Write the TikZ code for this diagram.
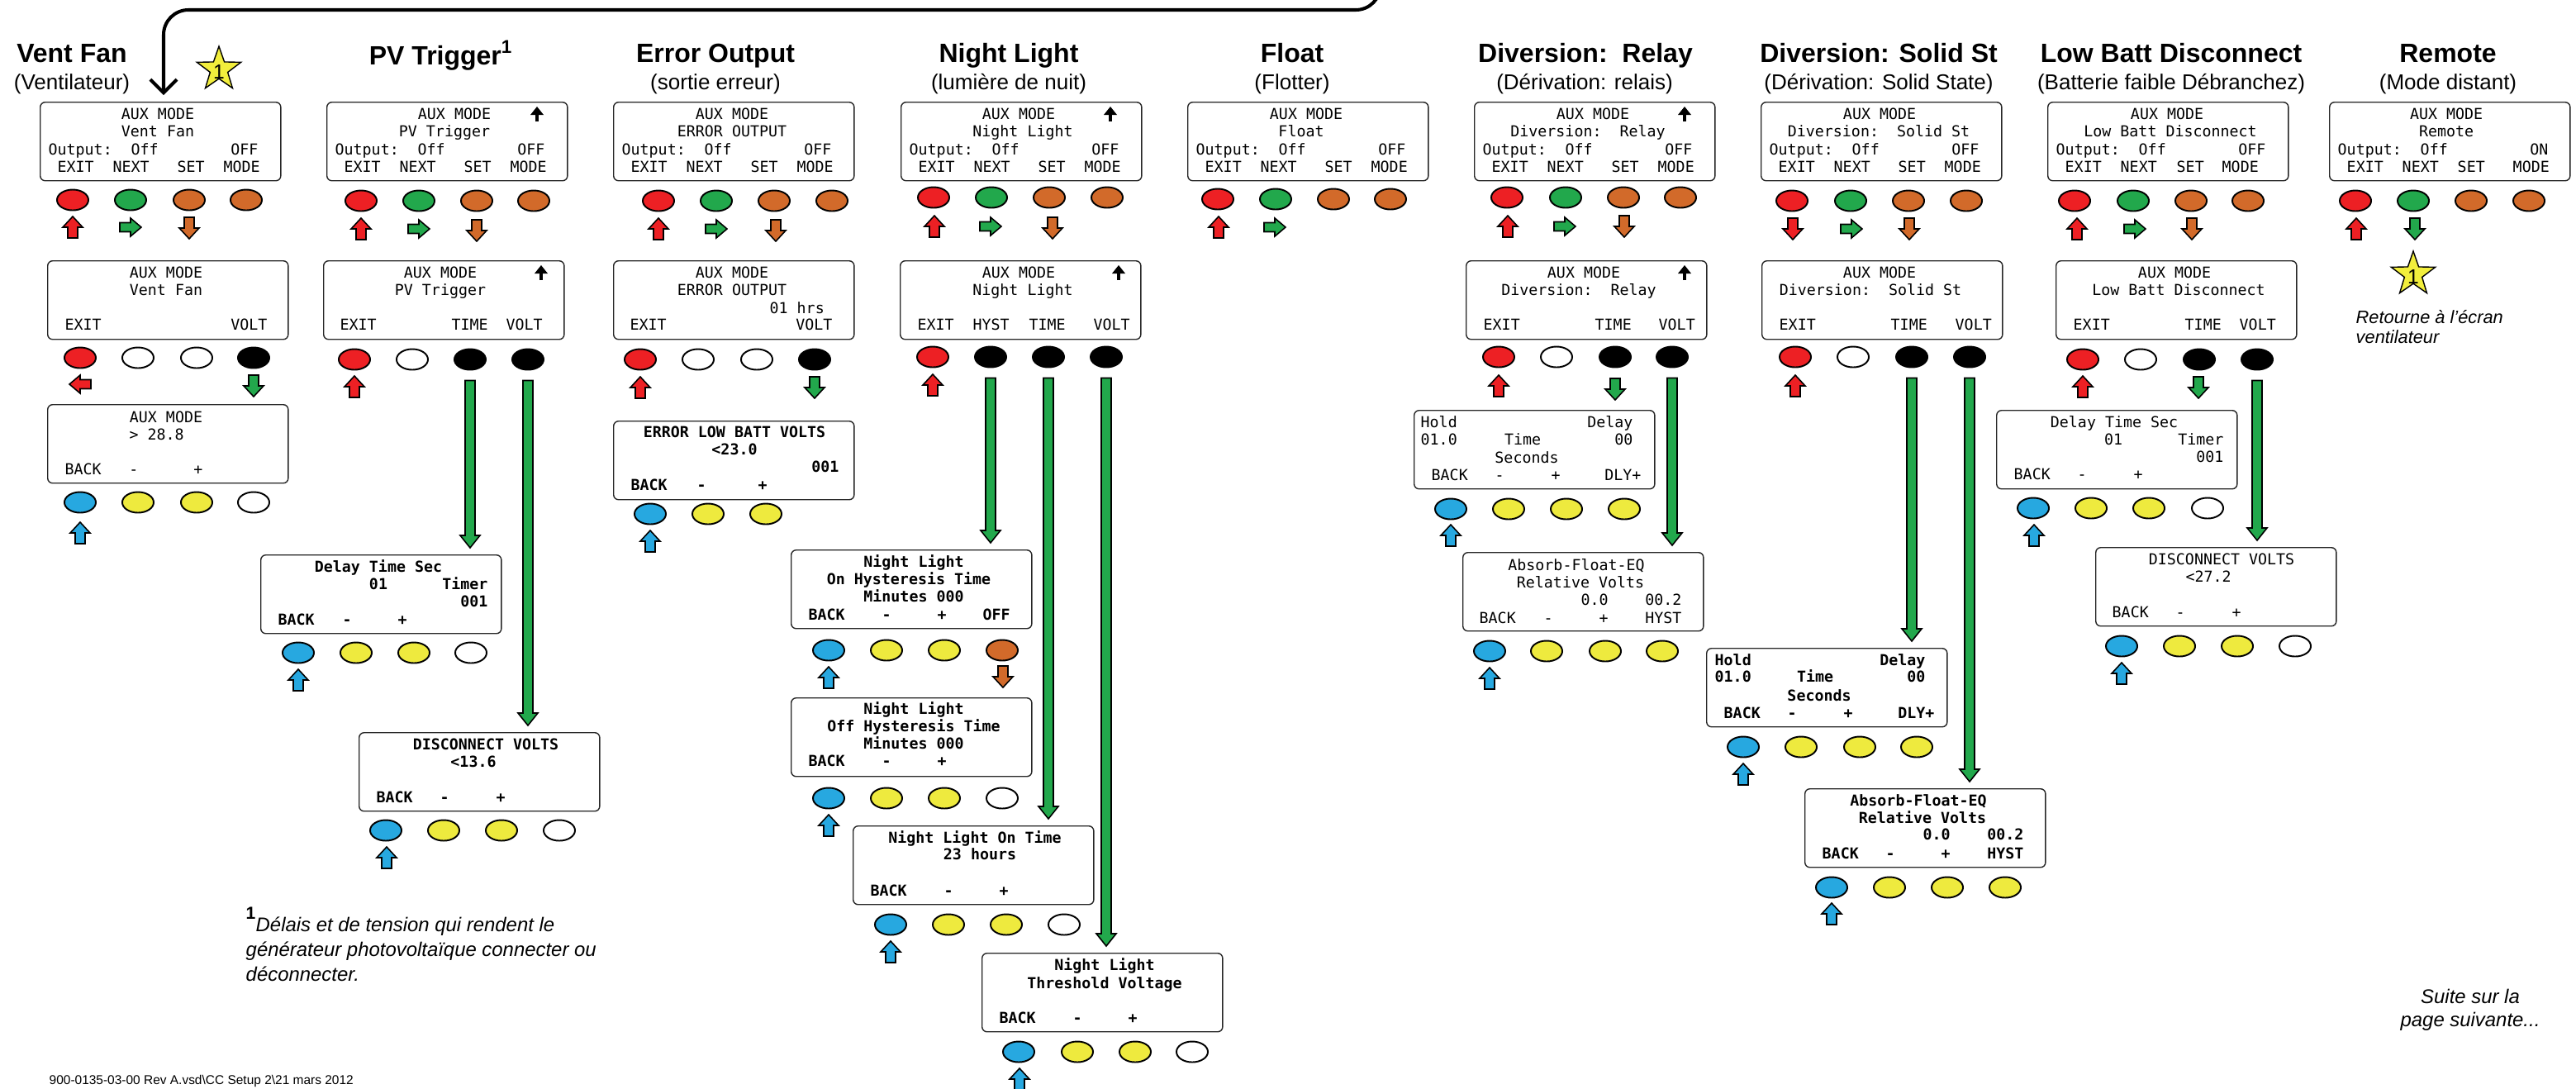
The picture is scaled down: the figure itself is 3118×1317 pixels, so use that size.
\documentclass[tikz,border=0pt]{standalone}
\usepackage{fontspec}
\setmainfont{Liberation Sans}
\newfontfamily\lcdfont{DejaVu Sans Mono}
\usetikzlibrary{shapes.geometric,arrows.meta,calc}
\definecolor{bred}{RGB}{237,32,36}
\definecolor{bgreen}{RGB}{34,168,76}
\definecolor{borange}{RGB}{210,106,42}
\definecolor{bblue}{RGB}{39,168,224}
\definecolor{byellow}{RGB}{238,234,62}
\definecolor{stary}{RGB}{242,238,60}
\newcount\tcnt
\tikzset{
  lcdA/.style={font=\lcdfont\fontsize{5.2}{6}\selectfont,inner sep=0pt},
  lcdB/.style={font=\lcdfont\bfseries\fontsize{5.2}{6}\selectfont,inner sep=0pt},
  lcdbox/.style={draw=black!85,line width=0.4pt,rounded corners=0.06cm,minimum width=2.91cm,minimum height=0.95cm,inner sep=0pt,anchor=north west,fill=white},
  btn/.style={ellipse,draw=black,line width=0.55pt,minimum width=0.38cm,minimum height=0.25cm,inner sep=0pt},
  barr/.style={draw=black,line width=0.45pt,line join=miter},
  ttl/.style={font=\bfseries\fontsize{9.1}{11}\selectfont,inner sep=0pt,anchor=base},
  subttl/.style={font=\fontsize{7.4}{9}\selectfont,inner sep=0pt,anchor=base},
  note/.style={font=\itshape\fontsize{6.2}{7}\selectfont,inner sep=0pt,anchor=base west},
  fnote/.style={font=\itshape\fontsize{6.8}{8}\selectfont,inner sep=0pt,anchor=base west},
  topline/.style={line width=1.15pt,rounded corners=0.3cm,-{Straight Barb[length=0.16cm,width=0.32cm]}},
  upglyph/.style={line width=1.1pt},
  starst/.style={star,star points=5,star point ratio=2.5,minimum size=0.56cm,inner sep=0pt,fill=stary,draw=black,line width=0.4pt},
}
\newcommand\TW[4][lcdA]{\global\advance\tcnt by 1\relax\node[#1,anchor=base west] (t\the\tcnt) at (#2,#3+6) {#4};}
\newcommand\TC[4][lcdA]{\global\advance\tcnt by 1\relax\node[#1,anchor=base] (t\the\tcnt) at (#2,#3+6) {#4};}
\newcommand\TE[4][lcdA]{\global\advance\tcnt by 1\relax\node[#1,anchor=base east] (t\the\tcnt) at (#2,#3+6) {#4};}
\newcommand\topbox[5]{%
  \node[lcdbox] (#1) at (#2,123) {};
  \TC{#3}{138}{AUX MODE}
  \TC{#4}{159}{#5}
  \TW{#2+10}{181}{Output:}
  \TW{#2+110}{181}{Off}
  \TW{#2+21}{202}{EXIT}
  \TW{#2+88}{202}{NEXT}}
\newcommand\brow[3]{\foreach \xx/\cc [count=\i] in {#3} {\node[btn,fill=\cc] (#1b\i) at (\xx,#2) {};}}
\newcommand\aU[3]{\filldraw[barr,fill=#3] (#1-6,#2+13) -- (#1-6,#2) -- (#1-12,#2) -- (#1,#2-13) -- (#1+12,#2) -- (#1+6,#2) -- (#1+6,#2+13) -- cycle;}
\newcommand\aD[3]{\filldraw[barr,fill=#3] (#1-6,#2-13) -- (#1-6,#2) -- (#1-12,#2) -- (#1,#2+13) -- (#1+12,#2) -- (#1+6,#2) -- (#1+6,#2-13) -- cycle;}
\newcommand\aR[3]{\filldraw[barr,fill=#3] (#1-13,#2-5.5) -- (#1,#2-5.5) -- (#1,#2-11) -- (#1+13,#2) -- (#1,#2+11) -- (#1,#2+5.5) -- (#1-13,#2+5.5) -- cycle;}
\newcommand\aL[3]{\filldraw[barr,fill=#3] (#1+13,#2-5.5) -- (#1,#2-5.5) -- (#1,#2-11) -- (#1-13,#2) -- (#1,#2+11) -- (#1,#2+5.5) -- (#1+13,#2+5.5) -- cycle;}
\newcommand\upg[2]{\draw[upglyph] (#1,#2+9) -- (#1,#2-2); \fill (#1-8,#2+1) -- (#1,#2-9) -- (#1+8,#2+1) -- cycle;}
\newcommand\longar[2]{%
  \coordinate (la) at ($(#1.south)+(0,12)$);
  \coordinate (lc) at (la |- #2.north);
  \coordinate (lb) at ($(lc)+(0,-8)$);
  \filldraw[barr,fill=bgreen] ($(la)+(-6,0)$) -- ($(lb)+(-6,-15)$) -- ($(lb)+(-12,-15)$) -- (lb) -- ($(lb)+(12,-15)$) -- ($(lb)+(6,-15)$) -- ($(la)+(6,0)$) -- cycle;}
\begin{document}
\begin{tikzpicture}[x=0.01cm,y=-0.01cm]
\useasboundingbox (0,0) rectangle (3118,1317);
\fill[white] (0,0) rectangle (3118,1317);

% ---------- titles ----------
\node[ttl] (tt1) at (87,75) {Vent Fan};
\node[subttl] (ts1) at (87,108) {(Ventilateur)};
\node[ttl] (tt2) at (534,78) {PV Trigger\textsuperscript{1}};
\node[ttl] (tt3) at (866,75) {Error Output};
\node[subttl] (ts3) at (866,108) {(sortie erreur)};
\node[ttl] (tt4) at (1221,75) {Night Light};
\node[subttl] (ts4) at (1221,108) {(lumière de nuit)};
\node[ttl] (tt5) at (1564,75) {Float};
\node[subttl] (ts5) at (1564,108) {(Flotter)};
\node[ttl] (tt6) at (1919,75) {Diversion:\ \ Relay};
\node[subttl] (ts6) at (1918,108) {(Dérivation: relais)};
\node[ttl] (tt7) at (2274,75) {Diversion: Solid St};
\node[subttl] (ts7) at (2274,108) {(Dérivation: Solid State)};
\node[ttl] (tt8) at (2628,75) {Low Batt Disconnect};
\node[subttl] (ts8) at (2628,108) {(Batterie faible Débranchez)};
\node[ttl] (tt9) at (2963,75) {Remote};
\node[subttl] (ts9) at (2963,108) {(Mode distant)};

% ---------- Vent Fan ----------
\topbox{v1}{48}{191}{191}{Vent Fan}
\TW{48+166}{202}{SET}\TW{48+222}{202}{MODE}\TE{48+265}{181}{OFF}
\brow{v1}{242}{88/bred,158/bgreen,229/borange,298/borange}
\aU{88}{275}{bred}\aR{158}{275}{bgreen}\aD{229}{276}{borange}
\node[lcdbox] (v2) at (57,315) {};
\TC{201}{330}{AUX MODE}\TC{201}{351}{Vent Fan}\TW{78}{393}{EXIT}\TE{324}{393}{VOLT}
\brow{v2}{433}{97/bred,167/white,238/white,307/black}
\aL{97}{465}{bred}\aD{307}{467}{bgreen}
\node[lcdbox] (v3) at (57,489) {};
\TC{201}{505}{AUX MODE}\TW{156}{526}{> 28.8}\TW{78}{568}{BACK}\TC{162}{568}{-}\TC{240}{568}{+}
\brow{v3}{608}{97/bblue,167/byellow,238/byellow,307/white}
\aU{97}{645}{bblue}
\node[starst] (star1) at (265,84) {};
\node[font=\fontsize{7}{8}\selectfont,inner sep=0pt] (star1t) at (265,87) {1};

% top connector (Remote -> Vent Fan)
\coordinate (topstart) at (1671,-30);
\coordinate (vtip) at (198,115);
\draw[topline] (topstart) -- (1671,12) -- (198,12) -- (vtip);

% ---------- PV Trigger ----------
\topbox{p1}{395}{550}{538}{PV Trigger}
\TW{395+166}{202}{SET}\TW{395+222}{202}{MODE}\TE{395+265}{181}{OFF}
\upg{650}{138}
\brow{p1}{243}{437/bred,507/bgreen,577/borange,646/borange}
\aU{437}{277}{bred}\aR{507}{277}{bgreen}\aD{577}{279}{borange}
\node[lcdbox] (p2) at (391,315) {};
\upg{655}{330}
\TC{533}{330}{AUX MODE}\TC{533}{351}{PV Trigger}\TW{411}{393}{EXIT}\TW{546}{393}{TIME}\TW{612}{393}{VOLT}
\brow{p2}{435}{429/bred,499/white,569/black,639/black}
\aU{429}{468}{bred}
\node[lcdbox] (pd) at (315,671) {};
\TC[lcdB]{458}{686}{Delay Time Sec}\TC[lcdB]{458}{707}{01}\TE[lcdB]{591}{707}{Timer}\TE[lcdB]{591}{728}{001}
\TW[lcdB]{336}{750}{BACK}\TC[lcdB]{420}{750}{-}\TC[lcdB]{487}{750}{+}
\brow{pd}{790}{361/bblue,431/byellow,501/byellow,570/white}
\aU{361}{823}{bblue}
\node[lcdbox] (pv) at (434,886) {};
\TC[lcdB]{588}{901}{DISCONNECT VOLTS}\TC[lcdB]{573}{922}{<13.6}
\TW[lcdB]{455}{965}{BACK}\TC[lcdB]{538}{965}{-}\TC[lcdB]{606}{965}{+}
\brow{pv}{1005}{467/bblue,537/byellow,607/byellow,677/white}
\aU{468}{1038}{bblue}
\longar{p2b3}{pd}
\longar{p2b4}{pv}

% ---------- Error Output ----------
\topbox{e1}{742}{886}{886}{ERROR OUTPUT}
\TW{742+166}{202}{SET}\TW{742+222}{202}{MODE}\TE{742+265}{181}{OFF}
\brow{e1}{243}{797/bred,867/bgreen,937/borange,1007/borange}
\aU{797}{277}{bred}\aR{867}{277}{bgreen}\aD{939}{279}{borange}
\node[lcdbox] (e2) at (742,315) {};
\TC{886}{330}{AUX MODE}\TC{886}{351}{ERROR OUTPUT}\TW{931}{373}{01 hrs}\TW{762}{393}{EXIT}\TE{1008}{393}{VOLT}
\brow{e2}{435}{775/bred,845/white,916/white,986/black}
\aU{775}{469}{bred}\aD{986}{469}{bgreen}
\node[lcdbox] (e3) at (742,509) {};
\TC[lcdB]{889}{523}{ERROR LOW BATT VOLTS}\TC[lcdB]{889}{544}{<23.0}\TE[lcdB]{1016}{565}{001}
\TW[lcdB]{763}{587}{BACK}\TC[lcdB]{849}{587}{-}\TC[lcdB]{923}{587}{+}
\brow{e3}{622}{787/bblue,857/byellow,927/byellow}
\aU{787}{655}{bblue}

% ---------- Night Light ----------
\topbox{n1}{1090}{1233}{1238}{Night Light}
\TW{1090+166}{202}{SET}\TW{1090+222}{202}{MODE}\TE{1090+265}{181}{OFF}
\upg{1344}{138}
\brow{n1}{239}{1130/bred,1200/bgreen,1270/borange,1340/borange}
\aU{1131}{274}{bred}\aR{1199}{274}{bgreen}\aD{1274}{276}{borange}
\node[lcdbox] (n2) at (1089,315) {};
\upg{1354}{330}
\TC{1233}{330}{AUX MODE}\TC{1238}{351}{Night Light}\TW{1110}{393}{EXIT}\TW{1177}{393}{HYST}\TW{1245}{393}{TIME}\TW{1323}{393}{VOLT}
\brow{n2}{432}{1129/bred,1199/black,1269/black,1339/black}
\aU{1129}{466}{bred}
\node[lcdbox] (nh) at (957,665) {};
\TC[lcdB]{1106}{680}{Night Light}\TC[lcdB]{1100}{701}{On Hysteresis Time}\TC[lcdB]{1106}{722}{Minutes 000}
\TW[lcdB]{978}{744}{BACK}\TC[lcdB]{1073}{744}{-}\TC[lcdB]{1140}{744}{+}\TC[lcdB]{1206}{744}{OFF}
\brow{nh}{787}{1003/bblue,1073/byellow,1143/byellow,1213/borange}
\aU{1003}{820}{bblue}\aD{1214}{819}{borange}
\node[lcdbox] (no) at (957,844) {};
\TC[lcdB]{1106}{858}{Night Light}\TC[lcdB]{1106}{879}{Off Hysteresis Time}\TC[lcdB]{1106}{900}{Minutes 000}
\TW[lcdB]{978}{921}{BACK}\TC[lcdB]{1073}{921}{-}\TC[lcdB]{1140}{921}{+}
\brow{no}{966}{1003/bblue,1073/byellow,1143/byellow,1213/white}
\aU{1003}{999}{bblue}
\node[lcdbox] (nt) at (1032,999) {};
\TC[lcdB]{1180}{1014}{Night Light On Time}\TC[lcdB]{1186}{1034}{23 hours}
\TW[lcdB]{1053}{1078}{BACK}\TC[lcdB]{1148}{1078}{-}\TC[lcdB]{1215}{1078}{+}
\brow{nt}{1119}{1078/bblue,1148/byellow,1218/byellow,1288/white}
\aU{1078}{1152}{bblue}
\node[lcdbox] (nv) at (1188,1153) {};
\TC[lcdB]{1337}{1168}{Night Light}\TC[lcdB]{1337}{1190}{Threshold Voltage}
\TW[lcdB]{1209}{1232}{BACK}\TC[lcdB]{1304}{1232}{-}\TC[lcdB]{1371}{1232}{+}
\brow{nv}{1273}{1233/bblue,1304/byellow,1374/byellow,1443/white}
\aU{1234}{1306}{bblue}
\longar{n2b2}{nh}
\longar{n2b3}{nt}
\longar{n2b4}{nv}

% ---------- Float ----------
\topbox{f1}{1437}{1581}{1575}{Float}
\TW{1437+166}{202}{SET}\TW{1437+222}{202}{MODE}\TE{1437+265}{181}{OFF}
\brow{f1}{241}{1474/bred,1544/bgreen,1614/borange,1683/borange}
\aU{1475}{275}{bred}\aR{1543}{275}{bgreen}

% ---------- Diversion: Relay ----------
\topbox{d1}{1784}{1928}{1922}{Diversion:\ \ Relay}
\TW{1784+166}{202}{SET}\TW{1784+222}{202}{MODE}\TE{1784+265}{181}{OFF}
\upg{2039}{138}
\brow{d1}{239}{1824/bred,1895/bgreen,1965/borange,2034/borange}
\aU{1825}{274}{bred}\aR{1894}{274}{bgreen}\aD{1966}{274}{borange}
\node[lcdbox] (d2) at (1774,315) {};
\upg{2039}{330}
\TC{1917}{330}{AUX MODE}\TC{1911}{351}{Diversion:\ \ Relay}\TW{1795}{393}{EXIT}\TW{1930}{393}{TIME}\TW{2007}{393}{VOLT}
\brow{d2}{432}{1814/bred,1884/white,1955/black,2024/black}
\aU{1814}{467}{bred}\aD{1955}{471}{bgreen}
\node[lcdbox] (dh) at (1711,496) {};
\TW{1719}{511}{Hold}\TE{1977}{511}{Delay}\TW{1719}{532}{01.0}\TC{1843}{532}{Time}\TE{1977}{532}{00}
\TC{1848}{554}{Seconds}\TW{1732}{575}{BACK}\TC{1815}{575}{-}\TC{1883}{575}{+}\TE{1987}{575}{DLY+}
\brow{dh}{616}{1756/bblue,1826/byellow,1896/byellow,1966/byellow}
\aU{1756}{648}{bblue}
\node[lcdbox] (da) at (1770,668) {};
\TC{1908}{684}{Absorb-Float-EQ}\TC{1913}{705}{Relative Volts}\TC{1930}{726}{0.0}\TE{2036}{726}{00.2}
\TW{1790}{748}{BACK}\TC{1874}{748}{-}\TC{1941}{748}{+}\TE{2036}{748}{HYST}
\brow{da}{788}{1803/bblue,1872/byellow,1943/byellow,2012/byellow}
\aU{1803}{821}{bblue}
\longar{d2b4}{da}

% ---------- Diversion: Solid St ----------
\topbox{s1}{2131}{2275}{2274}{Diversion:\ \ Solid St}
\TW{2131+166}{202}{SET}\TW{2131+222}{202}{MODE}\TE{2131+265}{181}{OFF}
\brow{s1}{243}{2169/bred,2240/bgreen,2310/borange,2380/borange}
\aD{2170}{277}{bred}\aR{2241}{277}{bgreen}\aD{2311}{277}{borange}
\node[lcdbox] (s2) at (2132,315) {};
\TC{2275}{330}{AUX MODE}\TC{2264}{351}{Diversion:\ \ Solid St}\TW{2153}{393}{EXIT}\TW{2288}{393}{TIME}\TW{2366}{393}{VOLT}
\brow{s2}{432}{2173/bred,2243/white,2314/black,2384/black}
\aU{2173}{467}{bred}
\node[lcdbox] (sh) at (2065,784) {};
\TW[lcdB]{2075}{799}{Hold}\TE[lcdB]{2331}{799}{Delay}\TW[lcdB]{2075}{819}{01.0}\TC[lcdB]{2197}{819}{Time}\TE[lcdB]{2331}{819}{00}
\TC[lcdB]{2202}{842}{Seconds}\TW[lcdB]{2086}{863}{BACK}\TC[lcdB]{2169}{863}{-}\TC[lcdB]{2237}{863}{+}\TE[lcdB]{2342}{863}{DLY+}
\brow{sh}{904}{2110/bblue,2180/byellow,2251/byellow,2320/byellow}
\aU{2110}{937}{bblue}
\node[lcdbox] (sa) at (2184,954) {};
\TC[lcdB]{2322}{969}{Absorb-Float-EQ}\TC[lcdB]{2327}{990}{Relative Volts}\TC[lcdB]{2344}{1010}{0.0}\TE[lcdB]{2450}{1010}{00.2}
\TW[lcdB]{2205}{1033}{BACK}\TC[lcdB]{2288}{1033}{-}\TC[lcdB]{2355}{1033}{+}\TE[lcdB]{2450}{1033}{HYST}
\brow{sa}{1074}{2217/bblue,2287/byellow,2357/byellow,2427/byellow}
\aU{2217}{1106}{bblue}
\longar{s2b3}{sh}
\longar{s2b4}{sa}

% ---------- Low Batt Disconnect ----------
\topbox{l1}{2478}{2623}{2627}{Low Batt Disconnect}
\TW{2478+156}{202}{SET}\TW{2478+211}{202}{MODE}\TE{2478+265}{181}{OFF}
\brow{l1}{243}{2511/bred,2582/bgreen,2652/borange,2721/borange}
\aU{2514}{277}{bred}\aR{2584}{277}{bgreen}\aD{2653}{277}{borange}
\node[lcdbox] (l2) at (2488,315) {};
\TC{2632}{330}{AUX MODE}\TC{2637}{351}{Low Batt Disconnect}\TW{2509}{393}{EXIT}\TW{2644}{393}{TIME}\TW{2710}{393}{VOLT}
\brow{l2}{435}{2521/bred,2591/white,2662/black,2732/black}
\aU{2521}{468}{bred}\aD{2661}{469}{bgreen}
\node[lcdbox] (ld) at (2416,496) {};
\TC{2559}{511}{Delay Time Sec}\TC{2558}{532}{01}\TE{2692}{532}{Timer}\TE{2692}{553}{001}
\TW{2437}{574}{BACK}\TC{2520}{574}{-}\TC{2588}{574}{+}
\brow{ld}{615}{2461/bblue,2531/byellow,2601/byellow,2672/white}
\aU{2462}{648}{bblue}
\node[lcdbox] (lv) at (2536,662) {};
\TC{2689}{677}{DISCONNECT VOLTS}\TC{2673}{698}{<27.2}
\TW{2556}{741}{BACK}\TC{2639}{741}{-}\TC{2707}{741}{+}
\brow{lv}{782}{2568/bblue,2638/byellow,2708/byellow,2778/white}
\aU{2568}{815}{bblue}
\longar{l2b4}{lv}

% ---------- Remote ----------
\topbox{r1}{2819}{2961}{2961}{Remote}
\TW{2819+155}{202}{SET}\TW{2819+222}{202}{MODE}\TE{2819+266}{181}{ON}
\brow{r1}{243}{2851/bred,2921/bgreen,2991/borange,3061/borange}
\aU{2852}{277}{bred}\aD{2923}{277}{bgreen}
\node[starst] (star2) at (2921,332) {};
\node[font=\fontsize{7}{8}\selectfont,inner sep=0pt] (star2t) at (2921,335) {1};
\node[note] (ret1) at (2851,391) {Retourne à l'écran};
\node[note] (ret2) at (2851,415) {ventilateur};

% ---------- notes ----------
\node[font=\bfseries\fontsize{6}{7}\selectfont,inner sep=0pt,anchor=base west] (fn0) at (297,1112) {1};
\node[fnote] (fn1) at (309,1127) {Délais et de tension qui rendent le};
\node[fnote] (fn2) at (297,1157) {générateur photovoltaïque connecter ou};
\node[fnote] (fn3) at (297,1187) {déconnecter.};
\node[font=\itshape\fontsize{6.8}{8}\selectfont,inner sep=0pt,anchor=base] (suite1) at (2990,1214) {Suite sur la};
\node[font=\itshape\fontsize{6.8}{8}\selectfont,inner sep=0pt,anchor=base] (suite2) at (2990,1242) {page suivante...};
\node[font=\fontsize{4.4}{5}\selectfont,inner sep=0pt,anchor=base west] (foot) at (59,1312) {900-0135-03-00 Rev A.vsd\textbackslash CC Setup 2\textbackslash 21 mars 2012};
\end{tikzpicture}
\end{document}
